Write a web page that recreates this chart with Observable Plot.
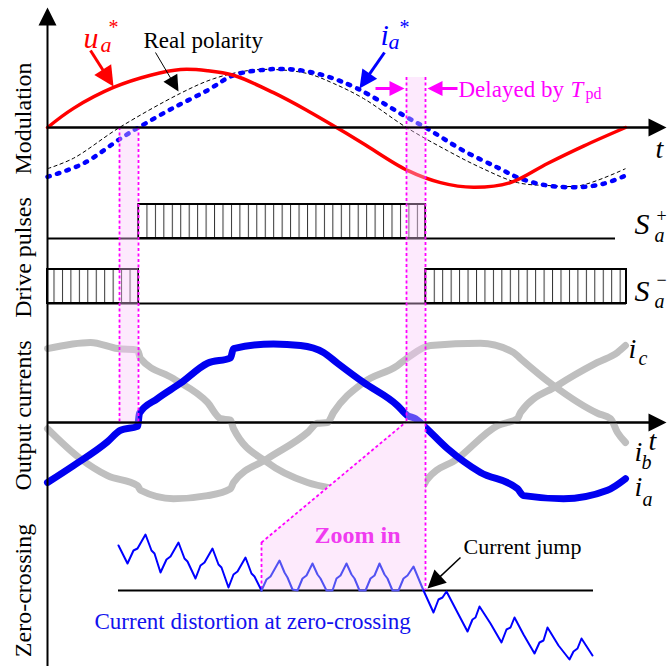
<!DOCTYPE html>
<html><head><meta charset="utf-8">
<script src="https://cdn.jsdelivr.net/npm/d3@7"></script>
<script src="https://cdn.jsdelivr.net/npm/@observablehq/plot@0.6"></script>
<style>body{margin:0;background:#fff}#chart{width:667px;height:666px}</style>
</head><body><div id="chart"></div>
<script>
// ---------- data (t = time in sample units, v = normalised value) ----------
const uaStar = [[0,0],[26,0.33],[66,0.69],[103,0.90],[133,1.00],[160,0.98],[186,0.90],[226,0.60],[260,0.29],[289,0],[316,-0.28],[360,-0.74],[393,-0.95],[426,-1.03],[463,-0.95],[500,-0.62],[536,-0.32],[578,0]];
const realPolarity = [[0,-0.71],[26,-0.53],[72,0],[133,0.59],[166,0.84],[200,0.98],[226,1.00],[260,0.93],[286,0.76],[316,0.50],[359,0],[400,-0.40],[433,-0.69],[470,-0.95],[500,-1.00],[533,-1.00],[578,-0.71]];
const iaStar = [[0,-0.85],[36,-0.62],[73,-0.19],[91,0],[126,0.34],[160,0.64],[186,0.90],[220,1.00],[246,1.00],[276,0.90],[310,0.67],[360,0.17],[378,0],[416,-0.40],[450,-0.69],[473,-0.88],[500,-1.00],[530,-1.03],[556,-0.97],[578,-0.83]];

const ia = [[0,-0.78],[26,-0.56],[60,-0.25],[73,-0.10],[90,-0.05],[92,0.12],[110,0.31],[133,0.51],[160,0.77],[183,0.84],[186,0.96],[226,1.02],[253,1.00],[276,0.91],[290,0.77],[316,0.52],[350,0.22],[360,0.09],[368,0.05],[376,-0.04],[400,-0.34],[433,-0.65],[470,-0.86],[476,-0.95],[516,-0.99],[560,-0.88],[578,-0.73]];
const ib = [[0,-0.08],[33,-0.47],[60,-0.69],[90,-0.82],[93,-0.88],[126,-0.99],[160,-0.95],[183,-0.86],[186,-0.78],[220,-0.47],[260,-0.13],[270,-0.01],[280,0.00],[286,0.13],[316,0.52],[350,0.74],[360,0.84],[383,1.00],[433,1.03],[466,0.91],[473,0.83],[506,0.48],[550,0.12],[563,0.05],[570,-0.13],[578,-0.26]];
const ic = [[0,0.96],[43,1.04],[70,0.96],[90,0.94],[93,0.83],[126,0.57],[160,0.26],[173,0.05],[183,0.03],[186,-0.08],[220,-0.52],[260,-0.78],[286,-0.86],[320,-0.92],[358,-0.88],[376,-0.82],[379,-0.75],[410,-0.47],[450,-0.04],[470,0.05],[473,0.13],[510,0.48],[550,0.78],[570,0.91],[578,1.00]];

const sPlusOn = [[91,378]];
const sMinusOn = [[0,91],[378,579]];

const zcBefore = [[71,45],[80,27],[86,40],[90,42],[98,56],[104,40],[107,37],[113,18],[119,31],[123,34],[131,48],[137,32],[140,29],[148,12],[153,25],[157,28],[165,42],[171,26],[174,23],[181,3],[186,16],[190,19],[198,33],[204,17],[207,14],[214,0]];
const zcInside = [[214,0],[219,11],[223,14],[232,30],[237,18],[240,13],[245,1],[250,0],[255,12],[259,15],[265,27],[270,16],[273,12],[279,0],[285,0],[289,12],[293,15],[299,27],[304,16],[307,12],[312,0],[318,0],[323,12],[327,15],[332,27],[337,16],[340,12],[345,0],[351,0],[356,12],[360,15],[366,24],[371,12],[376,0]];
const zcAfter = [[376,0],[386,-22],[391,-9],[395,-7],[399,-1],[410,-22],[420,-41],[425,-29],[428,-27],[432,-16],[443,-33],[454,-52],[459,-39],[463,-37],[467,-27],[476,-44],[487,-63],[492,-52],[496,-50],[500,-37],[511,-55],[522,-69],[526,-61],[530,-58],[534,-48],[545,-65]];

const deadBands = [[72,91],[359,378]];

// ---------- layout ----------
const MOD0 = 127, MODA = 58, CUR0 = 422, CURA = 77, ZC0 = 590;
const SP_BASE = 238, SP_HIGH = 204, SM_BASE = 303, SM_HIGH = 269;
const serif = "'Liberation Serif','Times New Roman',serif";
const MAG = "#ff00ff";

const mod = a => a.map(([t,v]) => ({t, y: MOD0 - MODA*v}));
const cur = a => a.map(([t,v]) => ({t, y: CUR0 - CURA*v}));
const zc  = a => a.map(([t,v]) => ({t, y: ZC0 - v}));

const head = {draw(ctx, size){ const r = Math.sqrt(size/Math.PI); ctx.moveTo(0,0); ctx.lineTo(r*0.5, r); ctx.lineTo(-r*0.5, r); ctx.closePath(); }};
function arrow(x1,y1,x2,y2,c,w,len){
  const dx = x2-x1, dy = y2-y1, L = Math.hypot(dx,dy), k = (L - len*0.7)/L;
  const ang = Math.atan2(dx,-dy)*180/Math.PI;
  return [
    Plot.link([0], {x1: ()=>x1, y1: ()=>y1, x2: ()=>x1+dx*k, y2: ()=>y1+dy*k, stroke: c, strokeWidth: w}),
    Plot.dot([0], {x: ()=>x2, y: ()=>y2, symbol: head, r: len, rotate: ang, fill: c, stroke: "none"})
  ];
}
function label(s, t, y, o={}){
  return Plot.text([s], {x: ()=>t, y: ()=>y, text: d=>d, fontFamily: serif, textAnchor: "start", lineAnchor: "bottom", fontSize: 24, fill: "black", ...o});
}
function title(s, y){
  return Plot.text([s], {x: ()=>-24, y: ()=>y, text: d=>d, rotate: -90, fontFamily: serif, fontSize: 24, textAnchor: "middle", lineAnchor: "middle", fill: "black"});
}
const pulse = (a, hi, base) => a.map(([t1,t2]) => ({t1, t2, hi, base}));
const dash = {stroke: MAG, strokeWidth: 1.8, strokeDasharray: "3,2.5", strokeLinecap: "butt"};

const marks = [
  // axes
  Plot.ruleY([MOD0], {x1: 0, x2: 606, stroke: "black", strokeWidth: 2}),
  Plot.ruleY([CUR0], {x1: 0, x2: 606, stroke: "black", strokeWidth: 2}),
  // output currents
  Plot.line(cur(ib), {x: "t", y: "y", stroke: "#bfbfbf", strokeWidth: 7, curve: "monotone-x"}),
  Plot.line(cur(ic), {x: "t", y: "y", stroke: "#bfbfbf", strokeWidth: 7, curve: "monotone-x"}),
  Plot.line(cur(ia), {x: "t", y: "y", stroke: "#0000f0", strokeWidth: 7, curve: "monotone-x"}),
  // modulation
  Plot.line(mod(realPolarity), {x: "t", y: "y", stroke: "black", strokeWidth: 1, strokeDasharray: "4,2.5", strokeLinecap: "butt", curve: "catmull-rom"}),
  Plot.line(mod(iaStar), {x: "t", y: "y", stroke: "#0000ff", strokeWidth: 4.5, strokeDasharray: "2.5,7.5", strokeLinecap: "round", curve: "catmull-rom"}),
  Plot.line(mod(uaStar), {x: "t", y: "y", stroke: "#ff0000", strokeWidth: 3.5, curve: "catmull-rom"}),
  // drive pulses
  Plot.ruleY([SP_BASE], {x1: 0, x2: 568, stroke: "black", strokeWidth: 2}),
  Plot.ruleY([SM_BASE], {x1: 0, x2: 579, stroke: "black", strokeWidth: 2}),
  Plot.rect(pulse(sPlusOn, SP_HIGH, SP_BASE), {x1: "t1", x2: "t2", y1: "hi", y2: "base", fill: "url(#hatch)", stroke: "black", strokeWidth: 2}),
  Plot.rect(pulse(sMinusOn, SM_HIGH, SM_BASE), {x1: "t1", x2: "t2", y1: "hi", y2: "base", fill: "url(#hatch)", stroke: "black", strokeWidth: 2}),
  // zoom-in region
  Plot.areaY([[214,542],[358,CUR0],[378,CUR0]], {x: d=>d[0], y1: ZC0, y2: d=>d[1], fill: "#fdeafc"}),
  Plot.link([0], {x1: ()=>214, y1: ()=>542, x2: ()=>358, y2: ()=>CUR0, ...dash}),
  Plot.ruleX([214], {y1: 542, y2: ZC0, ...dash}),
  // zero-crossing
  Plot.ruleY([ZC0], {x1: 71, x2: 546, stroke: "black", strokeWidth: 2}),
  Plot.line(zc(zcBefore), {x: "t", y: "y", stroke: "#0000ff", strokeWidth: 2}),
  Plot.line(zc(zcInside), {x: "t", y: "y", stroke: "#5252f2", strokeWidth: 2}),
  Plot.line(zc(zcAfter), {x: "t", y: "y", stroke: "#0000ff", strokeWidth: 2}),
  // dead-time bands
  Plot.rect(deadBands, {x1: d=>d[0], x2: d=>d[1], y1: (d,i)=> i===0 ? MOD0 : 77, y2: CUR0, fill: "rgb(250,200,250)", fillOpacity: 0.38}),
  Plot.ruleX([72, 91], {y1: MOD0, y2: CUR0, ...dash}),
  Plot.ruleX([359], {y1: 77, y2: CUR0, ...dash}),
  Plot.ruleX([378], {y1: 77, y2: ZC0, ...dash}),
  // axis arrows
  ...arrow(0, 666, 0, 7, "black", 2, 18),
  ...arrow(0, MOD0, 619, MOD0, "black", 2, 18),
  ...arrow(0, CUR0, 619, CUR0, "black", 2, 18),
  // annotation arrows
  ...arrow(43, 50, 66, 86, "#ff0000", 3, 20),
  ...arrow(108, 52, 131, 91, "black", 1, 16),
  ...arrow(337, 52, 312, 88, "#0000ff", 3, 18),
  ...arrow(328, 88, 357, 88, MAG, 3, 15),
  ...arrow(410, 88, 380, 88, MAG, 3, 15),
  ...arrow(413, 557, 380, 588, "black", 1.5, 18),
  // panel titles
  title("Modulation", 118), title("Drive pulses", 257), title("Output currents", 415), title("Zero-crossing", 590),
  // top labels
  label("u", 36, 47, {fontSize: 30, fontStyle: "italic", fill: "#ff0000"}),
  label("a", 53, 51, {fontSize: 22, fontStyle: "italic", fill: "#ff0000"}),
  label("*", 61, 33, {fontSize: 20, fill: "#ff0000"}),
  label("Real polarity", 96, 47, {fontSize: 23}),
  label("i", 333, 44, {fontSize: 30, fontStyle: "italic", fill: "#0000ff"}),
  label("a", 341, 48, {fontSize: 22, fontStyle: "italic", fill: "#0000ff"}),
  label("*", 352, 33, {fontSize: 20, fill: "#0000ff"}),
  label("Delayed by ", 411, 96, {fontSize: 23, fill: MAG}),
  label("T", 523, 96, {fontSize: 23, fontStyle: "italic", fill: MAG}),
  label("pd", 538, 98, {fontSize: 16, fill: MAG}),
  label("t", 608, 157, {fontSize: 28, fontStyle: "italic"}),
  // drive labels
  label("S", 587, 233, {fontSize: 30, fontStyle: "italic"}),
  label("+", 609, 221, {fontSize: 18}),
  label("a", 607, 241, {fontSize: 20, fontStyle: "italic"}),
  label("S", 587, 300, {fontSize: 30, fontStyle: "italic"}),
  label("\u2212", 609, 285, {fontSize: 18}),
  label("a", 607, 307, {fontSize: 20, fontStyle: "italic"}),
  // current labels
  label("i", 581, 357, {fontSize: 28, fontStyle: "italic"}),
  label("c", 591, 364, {fontSize: 20, fontStyle: "italic"}),
  label("t", 601, 449, {fontSize: 28, fontStyle: "italic"}),
  label("i", 587, 460, {fontSize: 28, fontStyle: "italic"}),
  label("b", 594, 468, {fontSize: 20, fontStyle: "italic"}),
  label("i", 587, 495, {fontSize: 28, fontStyle: "italic"}),
  label("a", 595, 505, {fontSize: 20, fontStyle: "italic"}),
  // zero-crossing texts
  label("Zoom in", 267, 542, {fontSize: 24, fontWeight: "bold", fill: "#f03cf0"}),
  label("Current jump", 416, 553, {fontSize: 22}),
  label("Current distortion at zero-crossing", 47, 628, {fontSize: 23, fill: "#1212ee"})
];

const svg = Plot.plot({
  width: 667, height: 666,
  marginTop: 0, marginRight: 0, marginBottom: 0, marginLeft: 0,
  x: {domain: [-47, 620], range: [0, 667], axis: null},
  y: {domain: [0, 666], range: [0, 666], axis: null},
  style: {background: "white", overflow: "visible"},
  marks
});
const defs = d3.select(svg).insert("defs", ":first-child");
const pat = defs.append("pattern").attr("id", "hatch").attr("patternUnits", "userSpaceOnUse")
  .attr("x", svg.scale("x").apply(91)).attr("y", 0).attr("width", 8.45).attr("height", 20);
pat.append("rect").attr("width", 8.45).attr("height", 20).attr("fill", "white");
pat.append("line").attr("x1", 0.5).attr("x2", 0.5).attr("y1", 0).attr("y2", 20).attr("stroke", "#333").attr("stroke-width", 1);
document.getElementById("chart").appendChild(svg);
</script>
</body></html>
